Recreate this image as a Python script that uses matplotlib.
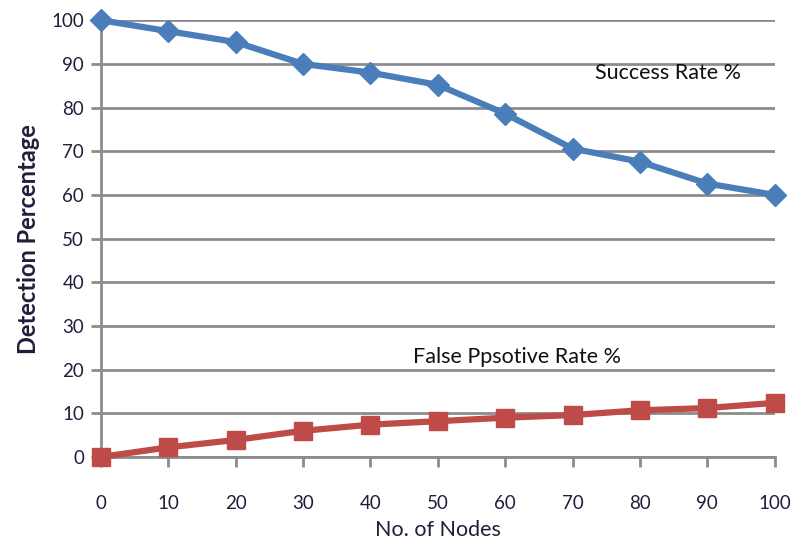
import matplotlib.pyplot as plt

# Data
nodes = [0, 10, 20, 30, 40, 50, 60, 70, 80, 90, 100]
success_rate = [100, 97.5, 95, 90, 88, 85.2, 78.6, 70.6, 67.6, 62.6, 60]
false_positive = [0, 2.2, 3.9, 6, 7.4, 8.2, 9, 9.6, 10.7, 11.2, 12.4]
y_ticks = [0, 10, 20, 30, 40, 50, 60, 70, 80, 90, 100]

plt.rcParams['font.family'] = ['Lato', 'DejaVu Sans']

fig = plt.figure(figsize=(7.93, 5.46), dpi=100)
ax = fig.add_axes([0.127, 0.163, 0.85, 0.8])

ax.plot(nodes, success_rate, color='#4a7ebb', lw=4.5, marker='D', ms=11,
        zorder=3, clip_on=False)
ax.plot(nodes, false_positive, color='#be4b48', lw=4.5, marker='s', ms=13,
        zorder=3, clip_on=False)

ax.set_xlim(0, 100)
ax.set_ylim(0, 100)
ax.set_xticks(nodes)
ax.set_yticks(y_ticks)
ax.yaxis.grid(True, color='#8c8c8c', lw=2)
ax.set_axisbelow(True)

for side in ['top', 'right']:
    ax.spines[side].set_visible(False)
for side in ['left', 'bottom']:
    ax.spines[side].set_color('#8c8c8c')
    ax.spines[side].set_linewidth(2)

ax.tick_params(axis='both', colors='#8c8c8c', width=2, length=7,
               labelsize=13.5, labelcolor='#1f1f3a')
ax.tick_params(axis='x', pad=20)
ax.tick_params(axis='y', pad=5)

ax.set_xlabel('No. of Nodes', fontsize=15.5, color='#1f1f3a', labelpad=6)
ax.set_ylabel('Detection Percentage', fontsize=17, fontweight='bold',
              color='#1f1f3a', labelpad=8)

ax.text(73.4, 88, 'Success Rate %', fontsize=15.5, color='#111111',
        va='center')
ax.text(46.4, 22.9, 'False Ppsotive Rate %', fontsize=15.5, color='#111111',
        va='center')

fig.savefig('out.png', dpi=100)
